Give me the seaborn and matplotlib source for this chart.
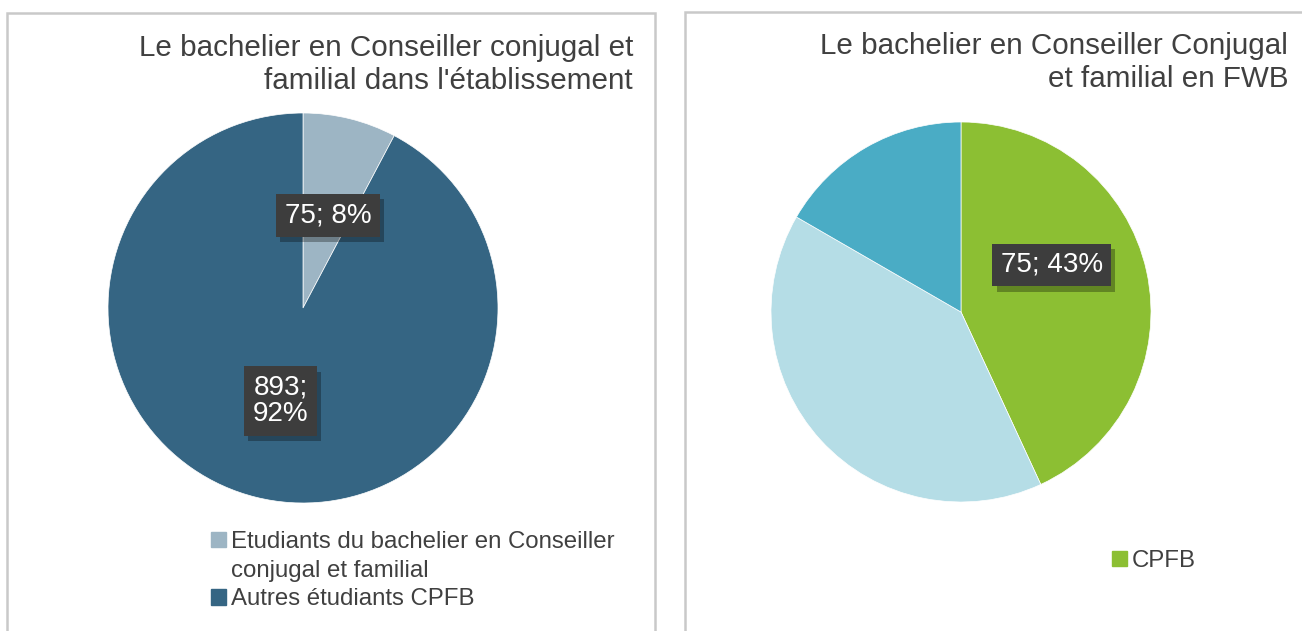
import matplotlib
matplotlib.use("Agg")
import matplotlib.pyplot as plt
import seaborn as sns
import numpy as np
from matplotlib.patches import Rectangle, Patch
from matplotlib import patheffects as pe

# ---- data ----
left_title = "Le bachelier en Conseiller conjugal et\nfamilial dans l'établissement"
left_labels = ["Etudiants du bachelier en Conseiller\nconjugal et familial", "Autres étudiants CPFB"]
left_values = [75, 893]
left_colors = ["#9db5c4", "#356583"]

right_title = "Le bachelier en Conseiller Conjugal\net familial en FWB"
right_labels = ["CPFB", "Autres (1)", "Autres (2)"]
right_values = [75, 70, 29]
right_colors = ["#8cbf33", "#b5dde6", "#4aacc5"]
right_shown = [True, False, False]

sns.set_theme(style="white")
plt.rcParams['font.family'] = ['Liberation Sans', 'DejaVu Sans']
TXT = "#404040"

W, H = 1302, 631
fig = plt.figure(figsize=(W / 100, H / 100), dpi=100)
fig.patch.set_facecolor("white")

# panel frames
for x0, x1, y0 in [(7, 655, 13), (685, 1330, 12)]:
    fig.patches.append(Rectangle((x0 / W, -0.1), (x1 - x0) / W, 1 - y0 / H + 0.1,
                                 transform=fig.transFigure, fill=False,
                                 edgecolor="#c9c9c9", linewidth=1.8, zorder=0))


def pie_axes(cx, cy, r):
    return fig.add_axes([(cx - r) / W, 1 - (cy + r) / H, 2 * r / W, 2 * r / H])


def label_box(ax, x, y, text):
    t = ax.text(x, y, text, ha="center", va="center", fontsize=20, linespacing=1.05,
                color="white",
                bbox=dict(boxstyle="square,pad=0.3", facecolor="#3d3d3d",
                          edgecolor="none", linewidth=0))
    t.get_bbox_patch().set_path_effects([
        pe.SimplePatchShadow(offset=(3, -4), shadow_rgbFace="black", alpha=0.3),
        pe.Normal()])
    return t


def draw_pie(ax, values, colors, shown, seps, dists):
    wedges, _ = ax.pie(values, colors=colors, startangle=90, counterclock=False,
                       wedgeprops=dict(linewidth=0.5, edgecolor="white"))
    ax.set_xlim(-1, 1)
    ax.set_ylim(-1, 1)
    ax.set_aspect("auto")
    total = sum(values)
    for w, v, s, sep, d in zip(wedges, values, shown, seps, dists):
        if not s:
            continue
        mid = np.deg2rad((w.theta1 + w.theta2) / 2)
        pct = int(round(100 * v / total))
        label_box(ax, d[0] * np.cos(mid) + d[1], d[0] * np.sin(mid) + d[2],
                  f"{v};{sep}{pct}%")
    return wedges


axL = pie_axes(303, 308, 195)
draw_pie(axL, left_values, left_colors, [True, True], [" ", "\n"],
         [(0.49, 0.01, 0.0), (0.48, 0.0, -0.01)])
axR = pie_axes(961, 312, 190)
draw_pie(axR, right_values, right_colors, right_shown, [" ", " ", " "],
         [(0.5, -0.01, 0.14), (0.5, 0, 0), (0.5, 0, 0)])

fig.text(633 / W, 1 - 34 / H, left_title, ha="right", va="top", fontsize=21.3,
         color=TXT, linespacing=1.22)
fig.text(1288 / W, 1 - 32 / H, right_title, ha="right", va="top", fontsize=21.3,
         color=TXT, linespacing=1.22)


def legend_entries(labels, colors):
    hs, ls = [], []
    for lab, c in zip(labels, colors):
        for i, line in enumerate(lab.split("\n")):
            hs.append(Patch(color=c) if i == 0 else Patch(color=(0, 0, 0, 0)))
            ls.append(line)
    return hs, ls


hL, lL = legend_entries(left_labels, left_colors)
fig.legend(handles=hL, labels=lL,
           loc="upper left", bbox_to_anchor=(211 / W, 1 - 531 / H), frameon=False,
           fontsize=17.3, labelcolor=TXT, handlelength=0.62, handleheight=0.62,
           handletextpad=0.2, labelspacing=0.28, borderpad=0, borderaxespad=0)
hR, lR = legend_entries(right_labels[:1], right_colors[:1])
fig.legend(handles=hR, labels=lR,
           loc="upper left", bbox_to_anchor=(1112 / W, 1 - 550 / H), frameon=False,
           fontsize=17.3, labelcolor=TXT, handlelength=0.62, handleheight=0.62,
           handletextpad=0.2, borderpad=0, borderaxespad=0)

fig.savefig("out.png", dpi=100)
